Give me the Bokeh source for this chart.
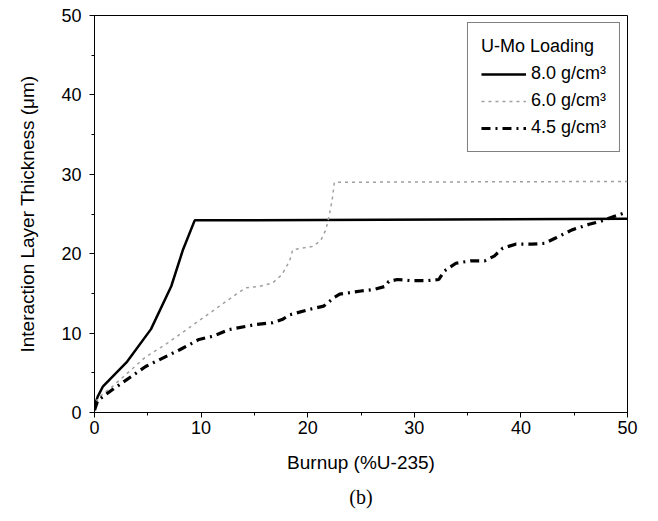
from bokeh.plotting import figure
from bokeh.models import SingleIntervalTicker, Range1d, Legend, LegendItem, Title
from bokeh.embed import file_html
from bokeh.resources import INLINE

# Data
x_80 = [0, 0.3, 0.8, 3.0, 5.3, 7.2, 8.3, 9.4, 50]
y_80 = [0.8, 2.0, 3.3, 6.3, 10.5, 15.9, 20.5, 24.2, 24.4]

x_60 = [0, 0.3, 1.7, 4.8, 6.7, 8.9, 11.1, 13.3, 14.2, 15.5, 16.7, 17.6, 18.3,
        18.6, 20.4, 21.2, 21.7, 22.0, 22.3, 22.5, 50]
y_60 = [0.5, 1.8, 3.3, 7.0, 8.6, 10.7, 12.8, 14.9, 15.7, 15.9, 16.3, 17.4, 19.1,
        20.5, 20.9, 21.6, 23.0, 24.7, 26.8, 29.0, 29.1]

x_45 = [0, 0.3, 1.7, 4.8, 8.0, 9.8, 11.1, 12.65, 15.2, 16.7, 17.6, 18.3, 20.2,
        21.5, 22.5, 23.0, 25.0, 26.2, 27.3, 27.6, 28.4, 29.8, 31.1, 32.3, 32.8,
        33.9, 35.3, 36.6, 37.5, 38.3, 39.5, 41.0, 42.2, 43.3, 44.8, 46.4, 47.5,
        49.2, 49.6]
y_45 = [0.3, 1.5, 2.9, 5.8, 7.9, 9.2, 9.6, 10.45, 11.1, 11.3, 11.7, 12.3, 13.0,
        13.4, 14.5, 14.9, 15.3, 15.5, 15.9, 16.5, 16.75, 16.6, 16.6, 16.75, 17.8,
        18.8, 19.1, 19.1, 19.7, 20.7, 21.2, 21.2, 21.3, 22.0, 23.0, 23.7, 24.1,
        24.9, 25.1]

labels = ["8.0 g/cm³", "6.0 g/cm³", "4.5 g/cm³"]
legend_title = "U-Mo Loading"
x_label = "Burnup (%U-235)"
y_label = "Interaction Layer Thickness (μm)"
caption = "(b)"

FONT = "Liberation Sans"

p = figure(frame_width=533, frame_height=397, output_backend="svg",
           toolbar_location=None,
           x_range=Range1d(0, 50), y_range=Range1d(0, 50),
           min_border_left=94, min_border_right=20, min_border_top=15,
           min_border_bottom=20)
p.grid.visible = False
p.outline_line_color = "black"
p.outline_line_width = 1
p.background_fill_color = "white"
p.border_fill_color = "white"

for ax in (p.xaxis[0], p.yaxis[0]):
    ax.ticker = SingleIntervalTicker(interval=10, num_minor_ticks=2)
    ax.major_label_text_font = FONT
    ax.major_label_text_font_size = "18px"
    ax.major_label_text_color = "black"
    ax.axis_label_text_font = FONT
    ax.axis_label_text_font_size = "19px"
    ax.axis_label_text_font_style = "normal"
    ax.axis_label_text_color = "black"
    ax.axis_line_color = "black"
    ax.major_tick_line_color = "black"
    ax.minor_tick_line_color = "black"
    ax.major_tick_out = 5
    ax.major_tick_in = 0
    ax.minor_tick_out = 3
    ax.minor_tick_in = 0

p.xaxis.axis_label = x_label
p.yaxis.axis_label = y_label
p.xaxis.axis_label_standoff = 15
p.yaxis.axis_label_standoff = 20
p.xaxis.major_label_standoff = 3
p.yaxis.major_label_standoff = 8

r80 = p.line(x_80, y_80, line_color="black", line_width=2.5)
r60 = p.line(x_60, y_60, line_color="#a0a0a0", line_width=1.5, line_dash="3 4")
r45 = p.line(x_45, y_45, line_color="black", line_width=3.2, line_dash="9 5 2 5")

legend = Legend(items=[LegendItem(label=labels[0], renderers=[r80]),
                       LegendItem(label=labels[1], renderers=[r60]),
                       LegendItem(label=labels[2], renderers=[r45])],
                location="top_right", title=legend_title)
legend.title_text_font = FONT
legend.title_text_font_size = "18px"
legend.title_text_font_style = "normal"
legend.title_text_color = "black"
legend.title_standoff = 6
legend.label_text_font = FONT
legend.label_text_font_size = "18px"
legend.label_text_color = "black"
legend.glyph_width = 45
legend.label_standoff = 5
legend.spacing = 6
legend.padding = 13
legend.margin = 7
legend.border_line_color = "black"
legend.border_line_width = 1
legend.background_fill_alpha = 1
p.add_layout(legend)

cap = Title(text=caption, align="center", text_font="Liberation Serif",
            text_font_size="20px", text_font_style="normal", text_color="black",
            standoff=17)
p.add_layout(cap, "below")

open("out.html", "w").write(file_html(p, INLINE))
